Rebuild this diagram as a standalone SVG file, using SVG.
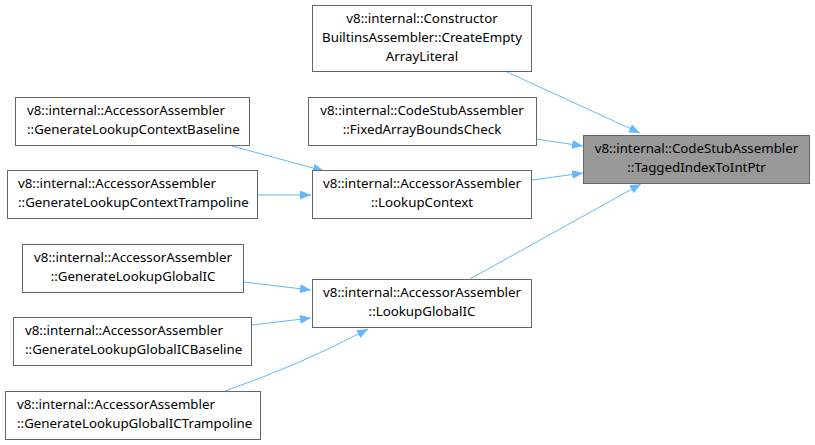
<svg xmlns="http://www.w3.org/2000/svg" width="815" height="445" viewBox="0 0 815 445">
<style>
.n rect{fill:#fff;stroke:#666;stroke-width:1}
.hl rect{fill:#999;stroke:#666}
text{font-family:"Noto Sans","DejaVu Sans",sans-serif;font-size:13.3px;fill:#000}
.c{text-anchor:middle}
.e path{fill:none;stroke:#63b8ff;stroke-width:1}
</style>
<defs>
<marker id="a" viewBox="0 0 11 9" refX="11" refY="4.5" markerWidth="11" markerHeight="9" markerUnits="userSpaceOnUse" orient="auto">
<path d="M0,0 L11,4.5 L0,9 Z" fill="#63b8ff"/>
</marker>
</defs>
<g class="e">
<path d="M507,72 L640,133" marker-end="url(#a)"/>
<path d="M536,139 L583,146" marker-end="url(#a)"/>
<path d="M532,180 L583,173" marker-end="url(#a)"/>
<path d="M470,279 L641,184" marker-end="url(#a)"/>
<path d="M232,146 L324,171" marker-end="url(#a)"/>
<path d="M258,195 L311,195" marker-end="url(#a)"/>
<path d="M244,282 L311,290" marker-end="url(#a)"/>
<path d="M252,325 L311,318" marker-end="url(#a)"/>
<path d="M225,391 Q300,365 368,329" marker-end="url(#a)"/>
</g>
<g id="main" class="n hl"><rect x="583.5" y="135.5" width="226" height="48"/>
<text class="c" x="696.5" y="153">v8::internal::CodeStubAssembler</text>
<text class="c" x="696.5" y="172">::TaggedIndexToIntPtr</text></g>
<g id="ctor" class="n"><rect x="312.5" y="5.5" width="219" height="66"/>
<text class="c" x="422" y="23">v8::internal::Constructor</text>
<text class="c" x="422" y="42">BuiltinsAssembler::CreateEmpty</text>
<text class="c" x="422" y="61">ArrayLiteral</text></g>
<g id="fabc" class="n"><rect x="308.5" y="97.5" width="228" height="48"/>
<text class="c" x="422" y="115">v8::internal::CodeStubAssembler</text>
<text class="c" x="422" y="134">::FixedArrayBoundsCheck</text></g>
<g id="lc" class="n"><rect x="312.5" y="170.5" width="219" height="48"/>
<text class="c" x="422" y="188">v8::internal::AccessorAssembler</text>
<text class="c" x="422" y="207">::LookupContext</text></g>
<g id="lg" class="n"><rect x="312.5" y="279.5" width="219" height="48"/>
<text class="c" x="422" y="297">v8::internal::AccessorAssembler</text>
<text class="c" x="422" y="316">::LookupGlobalIC</text></g>
<g id="glcb" class="n"><rect x="15.5" y="97.5" width="234" height="48"/>
<text x="27" y="115">v8::internal::AccessorAssembler</text>
<text x="27" y="134">::GenerateLookupContextBaseline</text></g>
<g id="glct" class="n"><rect x="7.5" y="170.5" width="250" height="48"/>
<text x="18" y="188">v8::internal::AccessorAssembler</text>
<text x="18" y="207">::GenerateLookupContextTrampoline</text></g>
<g id="glg" class="n"><rect x="22.5" y="244.5" width="221" height="48"/>
<text class="c" x="133" y="262">v8::internal::AccessorAssembler</text>
<text class="c" x="133" y="281">::GenerateLookupGlobalIC</text></g>
<g id="glgb" class="n"><rect x="13.5" y="317.5" width="238" height="48"/>
<text x="25" y="335">v8::internal::AccessorAssembler</text>
<text x="25" y="354">::GenerateLookupGlobalICBaseline</text></g>
<g id="glgt" class="n"><rect x="5.5" y="391.5" width="255" height="48"/>
<text x="17" y="409">v8::internal::AccessorAssembler</text>
<text x="17" y="428">::GenerateLookupGlobalICTrampoline</text></g>
</svg>
